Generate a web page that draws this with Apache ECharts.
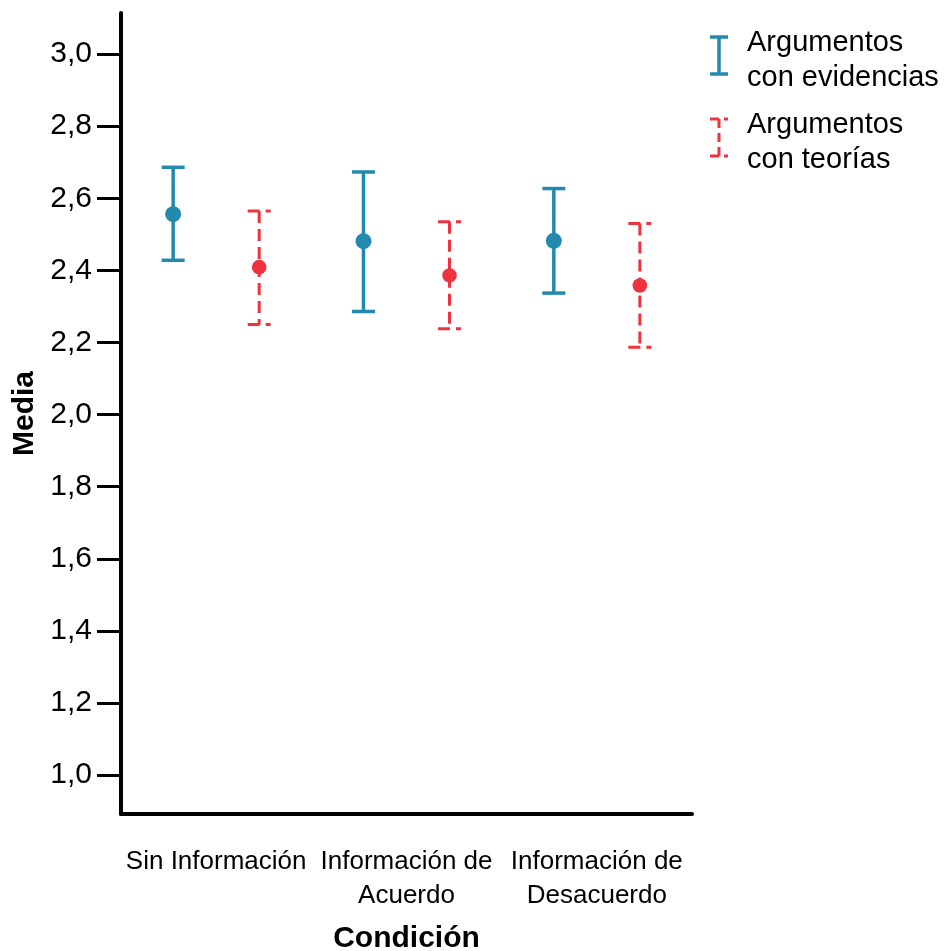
<!DOCTYPE html>
<html>
<head>
<meta charset="utf-8">
<script src="https://cdn.jsdelivr.net/npm/echarts@6/dist/echarts.min.js"></script>
<style>
  html, body { margin: 0; padding: 0; background: #fff; overflow: hidden; }
  #chart { width: 946px; height: 951px; }
</style>
</head>
<body>
<div id="chart"></div>
<script>
// Conditions on the x axis
const categories = ['Sin Información', 'Información de\nAcuerdo', 'Información de\nDesacuerdo'];

// "Argumentos con evidencias": mean and interval bounds per condition
const evidMean = [2.556, 2.481, 2.482];
const evidLow  = [2.428, 2.286, 2.337];
const evidHigh = [2.686, 2.673, 2.627];

// "Argumentos con teorías": mean and interval bounds per condition
const teorMean = [2.409, 2.386, 2.358];
const teorLow  = [2.250, 2.238, 2.187];
const teorHigh = [2.565, 2.535, 2.530];

// Y axis tick values
const yTicks = [1.0, 1.2, 1.4, 1.6, 1.8, 2.0, 2.2, 2.4, 2.6, 2.8, 3.0];

const BLUE = '#238aae';
const RED = '#ef323d';
const FONT = '"Liberation Sans", Arial, Helvetica, sans-serif';
const OFFSET = 0.226; // fraction of the category band between group centre and each bar

function rows(mean, low, high) {
  return mean.map((m, i) => [i, m, low[i], high[i]]);
}

function errorBarRenderer(side, color, dash, radius) {
  return function (params, api) {
    const idx = api.value(0);
    const band = api.size([1, 0])[0];
    const dx = side * band * OFFSET;
    const pm = api.coord([idx, api.value(1)]);
    const pl = api.coord([idx, api.value(2)]);
    const ph = api.coord([idx, api.value(3)]);
    const x = pm[0] + dx;
    const cap = 11.5;
    const stroke = { stroke: color, lineWidth: dash ? 3 : 3.5, lineDash: dash || null, fill: null };
    return {
      type: 'group',
      children: [
        { type: 'line', shape: { x1: x, y1: ph[1], x2: x, y2: pl[1] }, style: stroke },
        { type: 'line', shape: { x1: x - cap, y1: ph[1], x2: x + cap, y2: ph[1] }, style: stroke },
        { type: 'line', shape: { x1: x - cap, y1: pl[1], x2: x + cap, y2: pl[1] }, style: stroke },
        { type: 'circle', shape: { cx: x, cy: pm[1], r: radius }, style: { fill: color } }
      ]
    };
  };
}

function legendEntry(y, color, dash, lines) {
  const s = { stroke: color, lineWidth: dash ? 3 : 3.5, lineDash: dash || null, fill: null };
  return [
    { type: 'line', shape: { x1: 719, y1: y, x2: 719, y2: y + 37 }, style: s },
    { type: 'line', shape: { x1: 710, y1: y, x2: 728, y2: y }, style: s },
    { type: 'line', shape: { x1: 710, y1: y + 37, x2: 728, y2: y + 37 }, style: s },
    { type: 'text', x: 747, y: y + 6, style: { text: lines[0], font: '29px ' + FONT, fill: '#000', verticalAlign: 'middle' } },
    { type: 'text', x: 747, y: y + 41, style: { text: lines[1], font: '29px ' + FONT, fill: '#000', verticalAlign: 'middle' } }
  ];
}

const chart = echarts.init(document.getElementById('chart'), null, { renderer: 'canvas' });

chart.setOption({
  backgroundColor: '#fff',
  animation: false,
  grid: { left: 121, right: 254, top: 13, bottom: 137, containLabel: false, outerBoundsMode: 'none' },
  xAxis: {
    type: 'category',
    data: categories,
    boundaryGap: true,
    name: 'Condición',
    nameLocation: 'middle',
    nameGap: 125,
    nameTextStyle: { fontFamily: FONT, fontSize: 30, fontWeight: 'bold', color: '#000', verticalAlign: 'middle' },
    axisLine: { lineStyle: { color: '#000', width: 4 } },
    axisTick: { alignWithLabel: true, length: 23, lineStyle: { color: '#000', width: 3 } },
    axisLabel: { fontFamily: FONT, fontSize: 26, color: '#000', margin: 31, lineHeight: 34, interval: 0 },
    splitLine: { show: false }
  },
  yAxis: {
    type: 'value',
    min: 0.892,
    max: 3.114,
    name: 'Media',
    nameLocation: 'middle',
    nameGap: 92,
    nameTextStyle: { fontFamily: FONT, fontSize: 30, fontWeight: 'bold', color: '#000', verticalAlign: 'middle' },
    axisLine: { show: true, lineStyle: { color: '#000', width: 4 } },
    axisTick: { show: true, customValues: yTicks, length: 24, lineStyle: { color: '#000', width: 3 } },
    axisLabel: {
      customValues: yTicks,
      fontFamily: FONT, fontSize: 30, color: '#000', margin: 29,
      formatter: v => v.toFixed(1).replace('.', ',')
    },
    splitLine: { show: false }
  },
  series: [
    {
      name: 'Argumentos con evidencias',
      type: 'custom',
      renderItem: errorBarRenderer(-1, BLUE, null, 8),
      encode: { x: 0, y: [1, 2, 3] },
      data: rows(evidMean, evidLow, evidHigh),
      z: 3
    },
    {
      name: 'Argumentos con teorías',
      type: 'custom',
      renderItem: errorBarRenderer(1, RED, [12, 6], 7.3),
      encode: { x: 0, y: [1, 2, 3] },
      data: rows(teorMean, teorLow, teorHigh),
      z: 3
    }
  ],
  graphic: [
    ...legendEntry(37, BLUE, null, ['Argumentos', 'con evidencias']),
    ...legendEntry(119, RED, [9, 5], ['Argumentos', 'con teorías'])
  ]
});
</script>
</body>
</html>
